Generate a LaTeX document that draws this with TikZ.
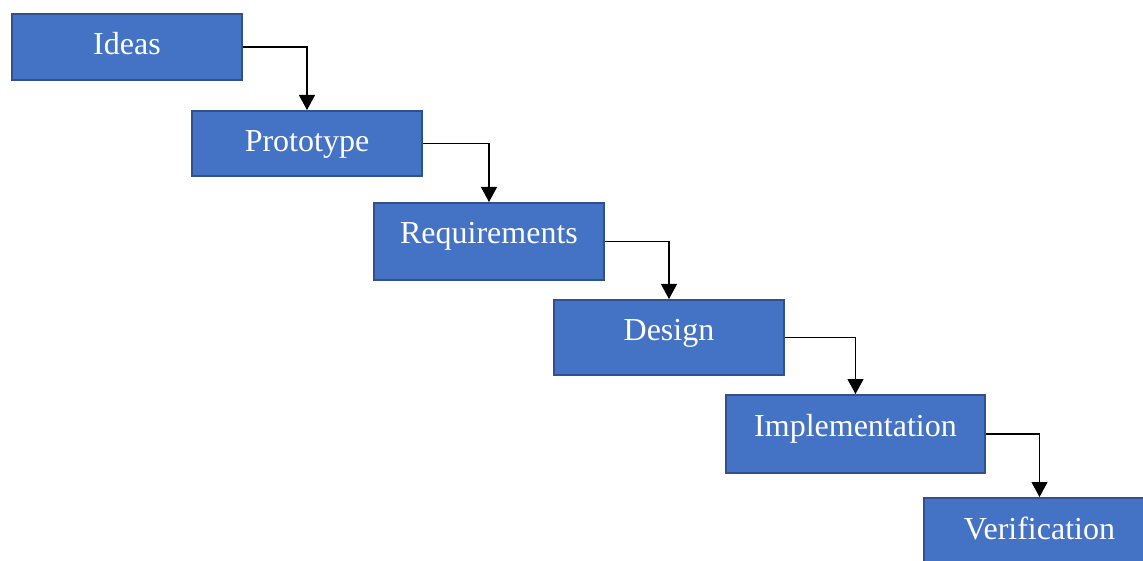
\documentclass[tikz,border=0pt]{standalone}
\usepackage{fontspec}
\setmainfont{Liberation Serif}
\usetikzlibrary{arrows.meta}
\definecolor{stepfill}{HTML}{4472C4}
\definecolor{stepline}{HTML}{2F528F}
\tikzset{
  stepbox/.style={draw=stepline, line width=2pt, fill=stepfill, text=white,
    anchor=north west, inner sep=0pt, text height=41pt,
    font=\fontsize{32}{38}\selectfont},
  flow/.style={draw=black, line width=1.1pt, -{Triangle[width=16pt,length=15pt]}}
}
\begin{document}
\begin{tikzpicture}[x=1pt, y=-1pt]

      \clip (0, 0) rectangle (1143, 561);
      \fill[white] (0, 0) rectangle (1143, 561);

      \node[stepbox, minimum width=230pt, text depth=25pt] (ideas) at (11, 13) {Ideas};
      \node[stepbox, minimum width=230pt, text depth=24pt] (proto) at (191, 110) {Prototype};
      \node[stepbox, minimum width=230pt, text depth=36pt] (reqs) at (373, 202) {Requirements};
      \node[stepbox, minimum width=230pt, text depth=34pt] (design) at (553, 299) {Design};
      \node[stepbox, minimum width=259pt, text depth=37pt] (impl) at (725, 394) {Implementation};
      \node[stepbox, minimum width=231pt, text depth=30pt] (verif) at (923, 497) {Verification};

      \draw[flow] (ideas.east) -| (proto.north);
      \draw[flow] (proto.east) -| (reqs.north);
      \draw[flow] (reqs.east) -| (design.north);
      \draw[flow] (design.east) -| (impl.north);
      \draw[flow] (impl.east) -| (verif.north);

    \end{tikzpicture}
\end{document}
